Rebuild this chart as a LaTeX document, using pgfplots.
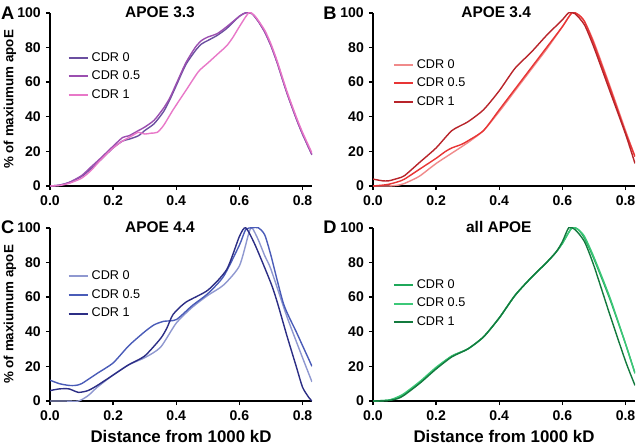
\documentclass[border=0pt]{standalone}
\usepackage{fontspec}
\setmainfont{Liberation Sans}
\usepackage{pgfplots}
\pgfplotsset{compat=1.18}

\definecolor{aZero}{HTML}{6B4FA0}
\definecolor{aHalf}{HTML}{9B4FB0}
\definecolor{aOne}{HTML}{E878C8}
\definecolor{bZero}{HTML}{F08A8A}
\definecolor{bHalf}{HTML}{E83535}
\definecolor{bOne}{HTML}{B8242A}
\definecolor{cZero}{HTML}{8F98D0}
\definecolor{cHalf}{HTML}{4A5CB8}
\definecolor{cOne}{HTML}{2C2E85}
\definecolor{dZero}{HTML}{1FA85A}
\definecolor{dHalf}{HTML}{3CC878}
\definecolor{dOne}{HTML}{137A3E}

\pgfplotsset{
  panel/.style={
    scale only axis, width=6.55cm, height=4.33cm,
    anchor=south west,
    xmin=0, xmax=0.83, ymin=0, ymax=100,
    axis lines=left, axis line style={line width=1.2pt, -},
    xtick={0,0.2,...,0.8}, ytick={0,20,...,100},
    tick style={line width=1pt, black}, tickwidth=3pt, tick align=outside,
    xticklabel style={/pgf/number format/.cd, fixed, fixed zerofill, precision=1},
    /pgf/number format/assume math mode=true,
    ticklabel style={font=\fontsize{10}{11}\bfseries},
    ylabel style={font=\fontsize{9.5}{11}\bfseries,
      at={(axis description cs:-0.153,0.5)}, anchor=center},
    xlabel style={font=\fontsize{12}{13}\bfseries},
    legend cell align=left,
    legend style={draw=none, fill=none, font=\fontsize{9}{10}\selectfont,
      anchor=north west, inner sep=0pt, row sep=1.5pt},
    legend image code/.code={\draw[#1, line width=1.4pt] (0cm,0cm) -- (0.48cm,0cm);},
    every axis plot/.append style={line width=1pt, smooth, tension=0.4},
  },
  ttl/.style={title style={font=\fontsize{11}{12}\bfseries, at={(#1,0.955)}, anchor=center}},
}

\begin{document}
\begin{tikzpicture}
\useasboundingbox (0,0) rectangle (16,11.1);

% ---------------- A: APOE 3.3
\begin{axis}[panel, at={(1.25cm,6.45cm)},
  ylabel={\% of maxiumum apoE},
  title={APOE 3.3}, ttl=0.42,
  legend style={at={(axis cs:0.055,79)}}]
\addplot[aZero] coordinates {
 (0,0)(0.03,0.5)(0.06,2)(0.1,5.5)(0.13,10)(0.16,15)(0.2,22)(0.23,26)(0.25,27)
 (0.28,29)(0.3,32)(0.33,36)(0.36,43)(0.38,50)(0.4,58)(0.43,70)(0.46,78)(0.48,82)
 (0.5,84)(0.53,87)(0.56,91)(0.6,98)(0.62,100)(0.64,99.5)(0.66,95)(0.68,89)
 (0.7,81)(0.72,71)(0.75,54)(0.78,39)(0.8,30)(0.83,18)};
\addplot[aHalf] coordinates {
 (0,0)(0.03,0.5)(0.06,2)(0.1,6)(0.13,11)(0.16,16)(0.2,23)(0.23,28)(0.25,29)
 (0.28,32)(0.3,34)(0.33,38)(0.36,45)(0.38,51)(0.4,59)(0.43,71)(0.46,80)(0.48,84)
 (0.5,86)(0.53,88)(0.56,92)(0.6,98)(0.62,100)(0.64,99.5)(0.66,95)(0.68,89)
 (0.7,81)(0.72,71)(0.75,54)(0.78,39)(0.8,30)(0.83,18)};
\addplot[aOne] coordinates {
 (0,0)(0.03,0.3)(0.06,1.5)(0.1,4.5)(0.13,9)(0.16,15)(0.2,22)(0.23,26)(0.26,29)
 (0.28,31)(0.3,30)(0.32,30.5)(0.34,31)(0.36,35)(0.39,44)(0.43,55)(0.47,66)
 (0.5,71)(0.53,76)(0.56,81)(0.58,86)(0.6,92)(0.63,100)(0.65,98)(0.68,90)
 (0.7,82)(0.72,72)(0.75,55)(0.78,40)(0.8,31)(0.83,19)};
\legend{CDR 0, CDR 0.5, CDR 1}
\end{axis}

% ---------------- B: APOE 3.4
\begin{axis}[panel, at={(9.325cm,6.45cm)},
  title={APOE 3.4}, ttl=0.47,
  legend style={at={(axis cs:0.062,75)}}]
\addplot[bZero] coordinates {
 (0,0)(0.05,0)(0.08,0.5)(0.1,1.5)(0.13,4)(0.15,6)(0.2,13)(0.25,19)(0.3,25)
 (0.35,32)(0.4,43)(0.45,55)(0.5,67)(0.55,79)(0.6,92)(0.63,100)(0.65,99)
 (0.67,95)(0.7,83)(0.75,58)(0.8,32)(0.83,17)};
\addplot[bHalf] coordinates {
 (0,0)(0.03,0.5)(0.05,1)(0.08,2.5)(0.1,4)(0.15,10)(0.2,16)(0.23,20)(0.25,22)
 (0.28,24)(0.3,26)(0.35,32)(0.4,44)(0.45,56)(0.5,68)(0.55,80)(0.6,92)
 (0.63,100)(0.65,99)(0.67,95)(0.7,82)(0.75,57)(0.8,31)(0.83,17)};
\addplot[bOne] coordinates {
 (0,4)(0.03,3)(0.05,3)(0.08,4.5)(0.1,6)(0.15,14)(0.2,22)(0.25,32)(0.3,37)
 (0.35,44)(0.4,55)(0.45,68)(0.5,77)(0.55,87)(0.6,96)(0.62,100)(0.64,99.5)
 (0.67,93)(0.7,80)(0.75,55)(0.8,30)(0.83,13)};
\legend{CDR 0, CDR 0.5, CDR 1}
\end{axis}

% ---------------- C: APOE 4.4
\begin{axis}[panel, at={(1.25cm,1.075cm)},
  ylabel={\% of maxiumum apoE}, xlabel={Distance from 1000 kD},
  title={APOE 4.4}, ttl=0.42,
  legend style={at={(axis cs:0.055,77)}}]
\addplot[cZero] coordinates {
 (0,0)(0.05,0)(0.09,0)(0.12,3)(0.15,8)(0.2,15)(0.25,21)(0.3,25)(0.35,31)
 (0.4,45)(0.45,54)(0.5,61)(0.55,67)(0.6,78)(0.63,97)(0.64,100)(0.66,93)
 (0.68,84)(0.7,76)(0.75,49)(0.8,25)(0.83,11)};
\addplot[cHalf] coordinates {
 (0,12)(0.03,10)(0.06,9)(0.08,9)(0.1,10)(0.15,16)(0.2,22)(0.25,32)(0.3,40)
 (0.33,44)(0.36,46)(0.4,47)(0.45,55)(0.5,62)(0.55,72)(0.6,90)(0.62,99)
 (0.64,100)(0.66,100)(0.68,96)(0.7,84)(0.74,56)(0.78,40)(0.8,32)(0.83,20)};
\addplot[cOne] coordinates {
 (0,6)(0.03,7)(0.06,7)(0.09,5)(0.12,6)(0.15,9)(0.2,15)(0.25,21)(0.3,26)
 (0.35,36)(0.37,42)(0.39,50)(0.43,57)(0.5,64)(0.56,76)(0.6,95)(0.62,100)
 (0.65,90)(0.7,68)(0.72,57)(0.75,38)(0.78,20)(0.8,8)(0.82,2)(0.83,0)};
\legend{CDR 0, CDR 0.5, CDR 1}
\end{axis}

% ---------------- D: all APOE
\begin{axis}[panel, at={(9.325cm,1.075cm)},
  xlabel={Distance from 1000 kD},
  title={all APOE}, ttl=0.48,
  legend style={at={(axis cs:0.062,72)}}]
\addplot[dZero] coordinates {
 (0,0)(0.05,0.5)(0.08,2)(0.1,4)(0.15,11)(0.2,19)(0.25,26)(0.3,30)(0.35,37)
 (0.4,48)(0.45,61)(0.5,71)(0.55,80)(0.58,86)(0.6,91)(0.63,100)(0.65,99)
 (0.67,94)(0.7,82)(0.75,59)(0.8,33)(0.83,16)};
\addplot[dHalf] coordinates {
 (0,0)(0.05,0.5)(0.08,2.5)(0.1,4.5)(0.15,11.5)(0.2,19.5)(0.25,26)(0.3,30)(0.35,37)
 (0.4,48)(0.45,61)(0.5,71)(0.55,80)(0.58,86)(0.6,91)(0.63,100)(0.65,99)
 (0.67,95)(0.7,83)(0.75,60)(0.8,33)(0.83,16)};
\addplot[dOne] coordinates {
 (0,0)(0.05,0.3)(0.08,1.5)(0.1,3.5)(0.15,10.5)(0.2,18.5)(0.25,25.5)(0.3,30)(0.35,37)
 (0.4,48)(0.45,61)(0.5,71)(0.55,80)(0.58,86)(0.6,92)(0.62,100)(0.64,99)
 (0.67,92)(0.7,78)(0.75,50)(0.8,23)(0.83,9)};
\legend{CDR 0, CDR 0.5, CDR 1}
\end{axis}

\node[font=\fontsize{13}{14}\bfseries] at (0.19,10.78) {A};
\node[font=\fontsize{13}{14}\bfseries] at (8.25,10.78) {B};
\node[font=\fontsize{13}{14}\bfseries] at (0.19,5.42) {C};
\node[font=\fontsize{13}{14}\bfseries] at (8.25,5.42) {D};
\end{tikzpicture}
\end{document}
